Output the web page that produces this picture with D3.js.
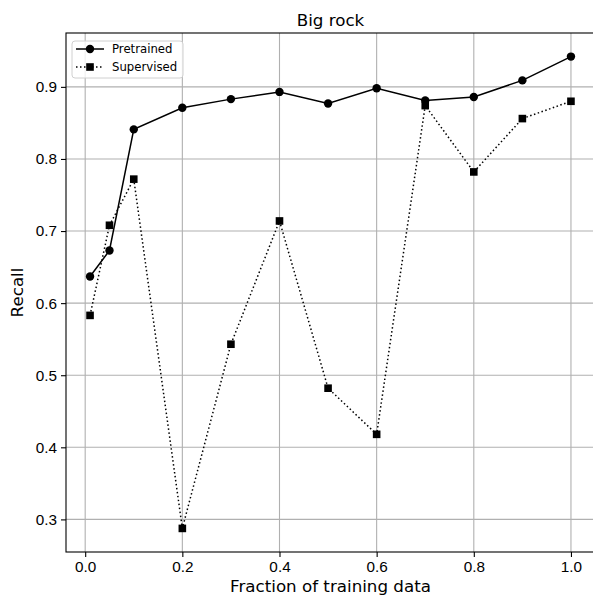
<!DOCTYPE html>
<html>
<head>
<meta charset="utf-8">
<script src="https://cdn.jsdelivr.net/npm/d3@7"></script>
<style>
  body { margin: 0; background: #fff; }
  svg { display: block; font-family: "DejaVu Sans", sans-serif; }
  .grid line { stroke: #b0b0b0; stroke-width: 1.1; }
  .eje path, .eje line { stroke: #000; stroke-width: 1.1; }
  .eje text { font-size: 15.3px; fill: #000; }
</style>
</head>
<body>
<script>
// datos
var fracciones = [0.01, 0.05, 0.1, 0.2, 0.3, 0.4, 0.5, 0.6, 0.7, 0.8, 0.9, 1.0];
var pretrained = [0.637, 0.673, 0.841, 0.871, 0.883, 0.893, 0.877, 0.898, 0.881, 0.886, 0.909, 0.942];
var supervised = [0.583, 0.708, 0.772, 0.2875, 0.543, 0.714, 0.482, 0.418, 0.874, 0.782, 0.856, 0.880];
var ticksX = [0.0, 0.2, 0.4, 0.6, 0.8, 1.0];
var ticksY = [0.3, 0.4, 0.5, 0.6, 0.7, 0.8, 0.9];
var series = [
  {nombre: 'Pretrained', valores: pretrained, marca: 'circulo', guiones: null},
  {nombre: 'Supervised', valores: supervised, marca: 'cuadrado', guiones: '1.5,2.5'}
];

var anchoSvg = 593,
    altoSvg = 597,
    margen = {sup: 33, izq: 66},
    ancho_grafica = 529,
    alto_grafica = 519;

// margen del 5% como matplotlib
function conMargen(ext) {
  var d = (ext[1] - ext[0]) * 0.05;
  return [ext[0] - d, ext[1] + d];
}

var escalaX = d3.scaleLinear()
  .domain(conMargen(d3.extent(fracciones)))
  .range([margen.izq, margen.izq + ancho_grafica]);

var escalaY = d3.scaleLinear()
  .domain(conMargen(d3.extent(pretrained.concat(supervised))))
  .range([margen.sup + alto_grafica, margen.sup]);

var svg = d3.select('body').append('svg')
  .attr('width', anchoSvg)
  .attr('height', altoSvg);

// rejilla
var grid = svg.append('g').attr('class', 'grid');
grid.selectAll('.gx').data(ticksX).enter().append('line')
  .attr('x1', d => escalaX(d)).attr('x2', d => escalaX(d))
  .attr('y1', margen.sup).attr('y2', margen.sup + alto_grafica);
grid.selectAll('.gy').data(ticksY).enter().append('line')
  .attr('y1', d => escalaY(d)).attr('y2', d => escalaY(d))
  .attr('x1', margen.izq).attr('x2', margen.izq + ancho_grafica);

// lineas y marcas
var linea = d3.line()
  .x((d, i) => escalaX(fracciones[i]))
  .y(d => escalaY(d));

series.forEach(s => {
  var g = svg.append('g');
  g.append('path')
    .attr('d', linea(s.valores))
    .attr('fill', 'none')
    .attr('stroke', '#000')
    .attr('stroke-width', 1.5)
    .attr('stroke-dasharray', s.guiones);
  if (s.marca == 'circulo') {
    g.selectAll('circle').data(s.valores).enter().append('circle')
      .attr('cx', (d, i) => escalaX(fracciones[i]))
      .attr('cy', d => escalaY(d))
      .attr('r', 4.2)
      .attr('fill', '#000');
  } else {
    g.selectAll('rect').data(s.valores).enter().append('rect')
      .attr('x', (d, i) => escalaX(fracciones[i]) - 3.8)
      .attr('y', d => escalaY(d) - 3.8)
      .attr('width', 7.6).attr('height', 7.6)
      .attr('fill', '#000');
  }
});

// marco
svg.append('rect')
  .attr('x', margen.izq).attr('y', margen.sup)
  .attr('width', ancho_grafica).attr('height', alto_grafica)
  .attr('fill', 'none').attr('stroke', '#000').attr('stroke-width', 1.1);

// ejes
var ejeX = d3.axisBottom(escalaX).tickValues(ticksX).tickFormat(d3.format('.1f'))
  .tickSizeInner(5).tickSizeOuter(0).tickPadding(4);
svg.append('g').attr('class', 'eje')
  .attr('transform', 'translate(0,' + (margen.sup + alto_grafica) + ')')
  .call(ejeX)
  .call(g => g.select('.domain').remove());

var ejeY = d3.axisLeft(escalaY).tickValues(ticksY).tickFormat(d3.format('.1f'))
  .tickSizeInner(5).tickSizeOuter(0).tickPadding(4);
svg.append('g').attr('class', 'eje')
  .attr('transform', 'translate(' + margen.izq + ',0)')
  .call(ejeY)
  .call(g => g.select('.domain').remove());

// titulo y etiquetas
svg.append('text')
  .attr('x', margen.izq + ancho_grafica / 2).attr('y', 26)
  .attr('text-anchor', 'middle').style('font-size', '16.7px')
  .text('Big rock');

svg.append('text')
  .attr('x', margen.izq + ancho_grafica / 2).attr('y', 592)
  .attr('text-anchor', 'middle').style('font-size', '16.7px')
  .text('Fraction of training data');

svg.append('text')
  .attr('transform', 'translate(23,' + (margen.sup + alto_grafica / 2) + ') rotate(-90)')
  .attr('text-anchor', 'middle').style('font-size', '16.7px')
  .text('Recall');

// leyenda
var leyenda = svg.append('g').attr('transform', 'translate(72,41)');
leyenda.append('rect')
  .attr('width', 111).attr('height', 37).attr('rx', 3)
  .attr('fill', '#fff').attr('fill-opacity', 0.8)
  .attr('stroke', '#d0d0d0').attr('stroke-width', 1);

series.forEach((s, i) => {
  var fy = 8 + i * 18;
  leyenda.append('line')
    .attr('x1', 4).attr('x2', 32).attr('y1', fy).attr('y2', fy)
    .attr('stroke', '#000').attr('stroke-width', 1.5)
    .attr('stroke-dasharray', s.guiones);
  if (s.marca == 'circulo') {
    leyenda.append('circle').attr('cx', 18).attr('cy', fy).attr('r', 4.2).attr('fill', '#000');
  } else {
    leyenda.append('rect').attr('x', 18 - 3.8).attr('y', fy - 3.8)
      .attr('width', 7.6).attr('height', 7.6).attr('fill', '#000');
  }
  leyenda.append('text')
    .attr('x', 40).attr('y', fy + 4.2)
    .style('font-size', '11.7px')
    .text(s.nombre);
});
</script>
</body>
</html>
